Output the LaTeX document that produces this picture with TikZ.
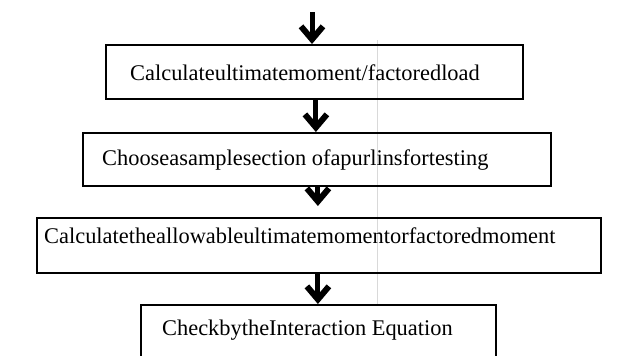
\documentclass[tikz,border=0pt]{standalone}
\usepackage{fontspec}
\setmainfont{Liberation Serif}
\usetikzlibrary{arrows.meta}
\begin{document}
\begin{tikzpicture}[x=1pt,y=-1pt,
  box/.style={draw=black, line width=1.8pt, inner sep=0pt, anchor=north west, fill=none},
  lbl/.style={anchor=base west, inner sep=0pt, font=\fontsize{22.4}{26}\selectfont},
  flowarrow/.style={line width=5pt, -{Straight Barb[length=13pt,width=22pt,line width=6pt]}},
  faint/.style={draw=gray!30, line width=0.6pt}]
\useasboundingbox (0,0) rectangle (625,356);
\draw[faint] (377,40) -- (377,304);
% boxes
\node[box, minimum width=417pt, minimum height=54pt] (b1) at (105,44) {};
\node[box, minimum width=468pt, minimum height=53pt] (b2) at (82,132) {};
\node[box, minimum width=564pt, minimum height=55pt] (b3) at (36,217) {};
\node[box, minimum width=355pt, minimum height=56pt] (b4) at (140,304) {};
% texts
\node[lbl] (t1) at (130,80) {Calculateultimatemoment/factoredload};
\node[lbl] (t2) at (102,165) {Chooseasamplesection ofapurlinsfortesting};
\node[lbl] (t3) at (44,243) {Calculatetheallowableultimatemomentorfactoredmoment};
\node[lbl] (t4) at (162,335) {CheckbytheInteraction Equation};
% arrows
\coordinate (a0) at (312,12);
\draw[flowarrow] (a0) -- (a0 |- b1.north);
\draw[flowarrow] ([xshift=1.5pt]b1.south) -- ([xshift=1.5pt]b1.south |- b2.north);
\draw[flowarrow, shorten >=11pt] ([xshift=1pt]b2.south) -- ([xshift=1pt]b2.south |- b3.north);
\draw[flowarrow] ([xshift=-1pt]b3.south) -- ([xshift=-1pt]b3.south |- b4.north);
\end{tikzpicture}
\end{document}
